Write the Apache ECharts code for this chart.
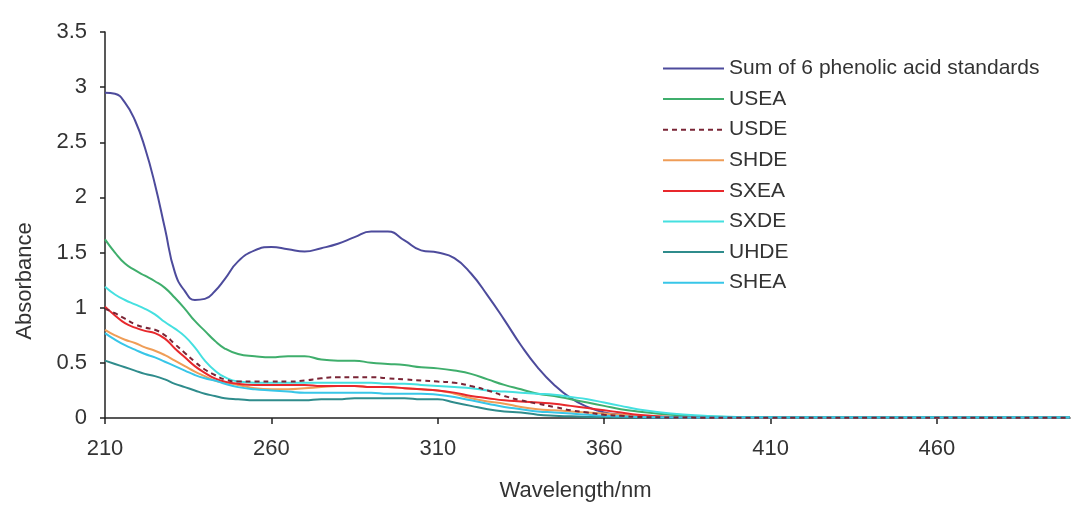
<!DOCTYPE html>
<html>
<head>
<meta charset="utf-8">
<script src="https://cdn.jsdelivr.net/npm/echarts@6/dist/echarts.min.js"></script>
<style>
  html, body { margin: 0; padding: 0; background: #fff; }
  #chart { width: 1077px; height: 507px; }
</style>
</head>
<body>
<div id="chart"></div>
<script>
// UV absorbance spectra (nm vs absorbance)
const wavelength = [210, 213, 216, 219, 222, 225, 228, 231, 234, 237, 240, 243, 246,
  250, 255, 260, 265, 270, 275, 280, 285, 290, 295, 300, 305, 310, 315, 320, 325, 330, 335, 340, 345, 350, 355, 360, 365, 370,
  380, 390, 400, 410, 420, 440, 460, 480, 500];

const sumStd = [2.95, 2.94, 2.86, 2.70, 2.45, 2.12, 1.72, 1.32, 1.15, 1.07, 1.08, 1.15, 1.26,
  1.42, 1.52, 1.55, 1.53, 1.51, 1.54, 1.58, 1.64, 1.69, 1.69, 1.61, 1.52, 1.50, 1.45, 1.31, 1.11, 0.89, 0.66, 0.46, 0.30, 0.18, 0.10, 0.05, 0.03, 0.01,
  0.005, 0.003, 0.002, 0.002, 0.002, 0.002, 0.002, 0.002, 0.002];
const usea = [1.62, 1.50, 1.40, 1.34, 1.29, 1.24, 1.18, 1.09, 0.99, 0.88, 0.79, 0.70, 0.63,
  0.58, 0.56, 0.55, 0.56, 0.56, 0.53, 0.52, 0.52, 0.50, 0.49, 0.48, 0.46, 0.45, 0.43, 0.40, 0.35, 0.30, 0.26, 0.22, 0.20, 0.17, 0.14, 0.11, 0.08, 0.06,
  0.03, 0.015, 0.008, 0.005, 0.004, 0.004, 0.004, 0.004, 0.004];
const usde = [0.99, 0.95, 0.90, 0.85, 0.82, 0.80, 0.75, 0.67, 0.59, 0.51, 0.44, 0.39, 0.35,
  0.33, 0.33, 0.33, 0.33, 0.34, 0.36, 0.37, 0.37, 0.37, 0.36, 0.35, 0.34, 0.33, 0.32, 0.29, 0.25, 0.20, 0.16, 0.13, 0.10, 0.07, 0.05, 0.03, 0.02, 0.01,
  0.005, 0.003, 0.002, 0.002, 0.002, 0.002, 0.002, 0.002, 0.002];
const shde = [0.80, 0.75, 0.71, 0.68, 0.64, 0.61, 0.57, 0.52, 0.47, 0.42, 0.38, 0.34, 0.32,
  0.30, 0.27, 0.26, 0.26, 0.27, 0.28, 0.29, 0.29, 0.28, 0.28, 0.27, 0.26, 0.25, 0.22, 0.18, 0.15, 0.13, 0.10, 0.08, 0.07, 0.06, 0.05, 0.04, 0.03, 0.02,
  0.01, 0.004, 0.002, 0.002, 0.002, 0.002, 0.002, 0.002, 0.002];
const sxea = [1.01, 0.93, 0.86, 0.82, 0.79, 0.77, 0.72, 0.63, 0.55, 0.47, 0.41, 0.36, 0.33,
  0.31, 0.30, 0.30, 0.30, 0.30, 0.29, 0.29, 0.29, 0.28, 0.28, 0.27, 0.26, 0.25, 0.23, 0.20, 0.18, 0.16, 0.15, 0.14, 0.13, 0.11, 0.09, 0.07, 0.05, 0.03,
  0.01, 0.005, 0.003, 0.003, 0.003, 0.003, 0.003, 0.003, 0.003];
const sxde = [1.19, 1.12, 1.07, 1.03, 0.99, 0.94, 0.87, 0.81, 0.74, 0.64, 0.52, 0.43, 0.37,
  0.33, 0.32, 0.32, 0.32, 0.32, 0.32, 0.32, 0.32, 0.32, 0.31, 0.31, 0.30, 0.29, 0.28, 0.27, 0.25, 0.24, 0.23, 0.22, 0.21, 0.19, 0.17, 0.14, 0.11, 0.08,
  0.04, 0.02, 0.01, 0.008, 0.007, 0.006, 0.006, 0.006, 0.006];
const uhde = [0.52, 0.49, 0.46, 0.43, 0.40, 0.38, 0.35, 0.31, 0.28, 0.25, 0.22, 0.20, 0.18,
  0.17, 0.16, 0.16, 0.16, 0.16, 0.17, 0.17, 0.18, 0.18, 0.18, 0.18, 0.17, 0.17, 0.14, 0.11, 0.08, 0.06, 0.05, 0.03, 0.02, 0.015, 0.01, 0.008, 0.006, 0.005,
  0.004, 0.004, 0.004, 0.004, 0.004, 0.004, 0.004, 0.004, 0.004];
const shea = [0.77, 0.71, 0.66, 0.62, 0.58, 0.55, 0.51, 0.47, 0.43, 0.39, 0.36, 0.34, 0.31,
  0.28, 0.26, 0.25, 0.24, 0.23, 0.23, 0.23, 0.23, 0.23, 0.22, 0.22, 0.22, 0.21, 0.19, 0.16, 0.13, 0.10, 0.08, 0.06, 0.05, 0.04, 0.03, 0.02, 0.015, 0.01,
  0.006, 0.005, 0.005, 0.005, 0.005, 0.005, 0.005, 0.005, 0.005];

const seriesNames = ['Sum of 6 phenolic acid standards', 'USEA', 'USDE', 'SHDE', 'SXEA', 'SXDE', 'UHDE', 'SHEA'];
const seriesValues = [sumStd, usea, usde, shde, sxea, sxde, uhde, shea];
const seriesColors = ['#4d4b9c', '#3fae6c', '#7a2536', '#ef9d57', '#e8282c', '#45e0e0', '#2f8c8c', '#38c6e8'];
const seriesDashed = [false, false, true, false, false, false, false, false];
const xTicks = [210, 260, 310, 360, 410, 460];

const FONT = '"Liberation Sans", Arial, sans-serif';

function pairs(vals) {
  return wavelength.map((w, i) => [w, vals[i]]);
}

const chart = echarts.init(document.getElementById('chart'), null, { renderer: 'canvas' });

chart.setOption({
  animation: false,
  backgroundColor: '#ffffff',
  grid: { left: 105, right: 7, top: 32, bottom: 88, containLabel: false },
  legend: {
    orient: 'vertical',
    left: 657,
    top: 53,
    data: seriesNames,
    itemWidth: 61,
    itemHeight: 14,
    itemGap: 9.6,
    itemStyle: { opacity: 0 },
    lineStyle: { width: 2 },
    textStyle: { fontFamily: FONT, fontSize: 21, color: '#333', lineHeight: 21 }
  },
  xAxis: {
    type: 'value',
    min: 210,
    max: 500,
    interval: 50,
    name: 'Wavelength/nm',
    nameLocation: 'middle',
    nameGap: 62,
    nameTextStyle: { fontFamily: FONT, fontSize: 22, color: '#333', padding: [0, 24, 0, 0] },
    axisLine: { lineStyle: { color: '#222', width: 1.5 } },
    axisTick: { show: true, length: 6, inside: false, customValues: xTicks, lineStyle: { color: '#222', width: 1.5 } },
    axisLabel: { customValues: xTicks, fontFamily: FONT, fontSize: 22, color: '#333', margin: 20 },
    splitLine: { show: false }
  },
  yAxis: {
    type: 'value',
    min: 0,
    max: 3.5,
    interval: 0.5,
    axisLine: { show: true, lineStyle: { color: '#222', width: 1.5 } },
    axisTick: { show: true, length: 5, lineStyle: { color: '#222', width: 1.5 } },
    axisLabel: { fontFamily: FONT, fontSize: 22, color: '#333', margin: 18 },
    splitLine: { show: false }
  },
  graphic: [{
    type: 'text',
    x: 25,
    y: 281,
    rotation: Math.PI / 2,
    style: {
      text: 'Absorbance',
      font: '22px ' + FONT,
      fill: '#333',
      align: 'center',
      verticalAlign: 'middle'
    }
  }],
  series: seriesNames.map((name, i) => ({
    name: name,
    type: 'line',
    data: pairs(seriesValues[i]),
    smooth: true,
    symbol: 'none',
    z: seriesDashed[i] ? 4 : 2,
    color: seriesColors[i],
    lineStyle: {
      color: seriesColors[i],
      width: 2,
      type: seriesDashed[i] ? [5, 4] : 'solid'
    }
  }))
});
</script>
</body>
</html>
